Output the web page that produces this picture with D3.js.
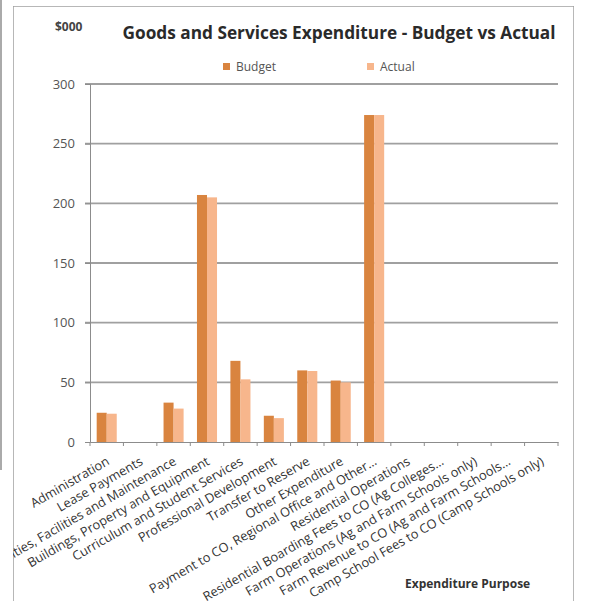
<!DOCTYPE html>
<html><head><meta charset="utf-8">
<script src="https://cdn.jsdelivr.net/npm/d3@7"></script>
<style>body{margin:0;background:#fff}svg{display:block}</style>
</head><body>
<script>
const categories = ["Administration","Lease Payments","Utilities, Facilities and Maintenance","Buildings, Property and Equipment","Curriculum and Student Services","Professional Development","Transfer to Reserve","Other Expenditure","Payment to CO, Regional Office and Other…","Residential Operations","Residential Boarding Fees to CO (Ag Colleges…","Farm Operations (Ag and Farm Schools only)","Farm Revenue to CO (Ag and Farm Schools…","Camp School Fees to CO (Camp Schools only)"];
const budget = [24.5,0,33,207,68,22,60,51.5,274,0,0,0,0,0];
const actual = [23.7,0,28,205,52.5,20,59.5,50,274,0,0,0,0,0];
const seriesNames = ["Budget","Actual"];
const yTicks = [0,50,100,150,200,250,300];
const colors = ["#D9843F","#F7B68C"];

const W=589,H=601;
const svg=d3.select("body").append("svg").attr("width",W).attr("height",H);
svg.append("line").attr("x1",1).attr("x2",1).attr("y1",0).attr("y2",470).attr("stroke","#aaa").attr("stroke-width",2);
svg.append("defs").append("clipPath").attr("id","clip").append("rect").attr("x",13).attr("y",6).attr("width",561).attr("height",600);
const g=svg.append("g").attr("clip-path","url(#clip)");
g.append("rect").attr("x",13).attr("y",6).attr("width",561).attr("height",610).attr("fill","#fff").attr("stroke","#a0a0a0").attr("stroke-width",1.5);

const pL=90,pR=558,pT=84,pB=442;
const x0=d3.scaleBand().domain(categories).range([pL,pR]).paddingInner(0.4).paddingOuter(0.2);
const xb=d3.scaleBand().domain(categories).range([pL,pR]).padding(0);
const x1=d3.scaleBand().domain(seriesNames).range([0,x0.bandwidth()]);
const y=d3.scaleLinear().domain([0,300]).range([pB,pT]);

// gridlines
g.selectAll(".grid").data(yTicks.filter(d=>d>0)).join("line")
 .attr("x1",pL-5).attr("x2",pR).attr("y1",d=>y(d)).attr("y2",d=>y(d))
 .attr("stroke","#a0a0a0").attr("stroke-width",1.8);
// y axis
const ya=g.append("g").attr("transform",`translate(${pL},0)`).call(d3.axisLeft(y).tickValues(yTicks).tickSize(5).tickPadding(10));
ya.select(".domain").attr("stroke","#8c8c8c");
ya.selectAll(".tick line").attr("stroke","#8c8c8c");
ya.selectAll("text").attr("font-family","Open Sans").attr("font-size",13).attr("fill","#555");

// bars
const data=categories.map((c,i)=>({c,vals:[budget[i],actual[i]]}));
const grp=g.selectAll(".grp").data(data).join("g").attr("transform",d=>`translate(${x0(d.c)},0)`);
grp.selectAll("rect").data(d=>d.vals.map((v,j)=>({v,s:seriesNames[j],j}))).join("rect")
 .attr("x",d=>x1(d.s)).attr("width",x1.bandwidth()).attr("y",d=>y(d.v)).attr("height",d=>pB-y(d.v))
 .attr("fill",d=>colors[d.j]);

// x axis
const xa=g.append("g").attr("transform",`translate(0,${pB})`).call(d3.axisBottom(xb).tickSize(0).tickFormat(""));
xa.select(".domain").attr("stroke","#8c8c8c");
const bounds=d3.range(categories.length+1).map(i=>pL+i*xb.step());
g.selectAll(".xt").data(bounds).join("line").attr("x1",d=>d).attr("x2",d=>d).attr("y1",pB).attr("y2",pB+4).attr("stroke","#8c8c8c");
g.selectAll(".xl").data(categories).join("text")
 .attr("transform",d=>`translate(${xb(d)+xb.bandwidth()/2-1},${pB+14}) rotate(-30)`)
 .attr("text-anchor","end").attr("dy","0.71em")
 .attr("font-family","Open Sans").attr("font-size",12.8).attr("fill","#333").text(d=>d);

// title etc
g.append("text").attr("x",339).attr("y",39).attr("text-anchor","middle").attr("font-family","Open Sans").attr("font-weight","bold").attr("font-size",17).attr("fill","#2a2a2a")
 .attr("textLength",433).attr("lengthAdjust","spacingAndGlyphs").text("Goods and Services Expenditure - Budget vs Actual");
g.append("text").attr("x",55).attr("y",31).attr("font-family","Open Sans").attr("font-weight","bold").attr("font-size",12).attr("fill","#444").text("$000");
g.append("text").attr("x",405).attr("y",588).attr("font-family","Open Sans").attr("font-weight","bold").attr("font-size",12).attr("fill","#333").text("Expenditure Purpose");

// legend
const legX=[223,367];
seriesNames.forEach((s,i)=>{
  g.append("rect").attr("x",legX[i]).attr("y",63).attr("width",7).attr("height",7).attr("fill",colors[i]);
  g.append("text").attr("x",legX[i]+13).attr("y",71).attr("font-family","Open Sans").attr("font-size",12).attr("fill","#555").text(s);
});
</script>
</body></html>
